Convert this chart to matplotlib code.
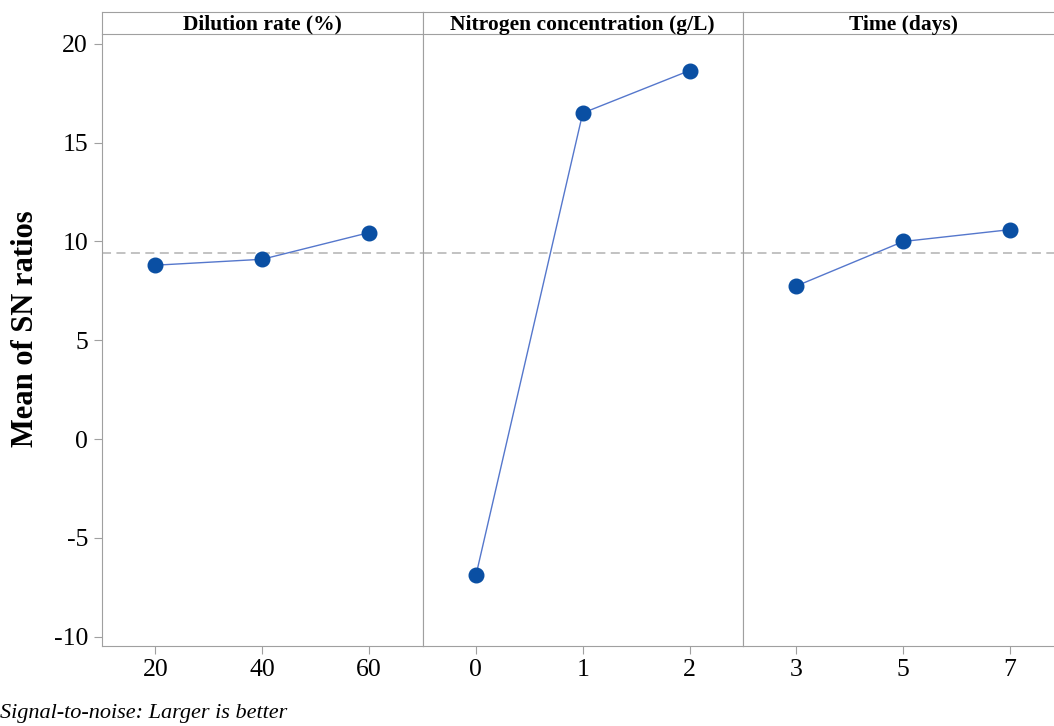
import matplotlib.pyplot as plt

plt.rcParams['font.family'] = ['Liberation Serif', 'DejaVu Serif']
plt.rcParams['axes.unicode_minus'] = False

# Datos
factores = ["Dilution rate (%)", "Nitrogen concentration (g/L)", "Time (days)"]
niveles = [["20", "40", "60"], ["0", "1", "2"], ["3", "5", "7"]]
sn_dilucion = [8.8, 9.1, 10.45]
sn_nitrogeno = [-6.9, 16.5, 18.65]
sn_tiempo = [7.75, 10.0, 10.6]
media_sn = 9.43
y_ticks = [-10, -5, 0, 5, 10, 15, 20]

series = [sn_dilucion, sn_nitrogeno, sn_tiempo]

fig = plt.figure(figsize=(10.54, 7.26), dpi=100)
W, H = 1054, 726
gris = "#a0a0a0"

izq = 102
ancho = 320.5
abajo = 646
arriba = 34
franja = 22

for i, (nombre, etiquetas, valores) in enumerate(zip(factores, niveles, series)):
    x0 = izq + i * ancho
    ax = fig.add_axes([x0 / W, 1 - abajo / H, ancho / W, (abajo - arriba) / H])
    pos = list(range(len(valores)))
    ax.axhline(media_sn, color="#bdbdbd", linestyle=(0, (5, 3)), linewidth=1.3, zorder=1)
    ax.plot(pos, valores, color="#5577cc", linewidth=1.0, zorder=2)
    ax.plot(pos, valores, "o", color="#0a4fa3", markersize=10.5, zorder=3)
    ax.set_xlim(-0.5, 2.5)
    ax.set_ylim(-10.47, 20.5)
    ax.set_xticks(pos)
    ax.set_xticklabels(etiquetas)
    for lado in ax.spines.values():
        lado.set_color(gris)
    ax.spines["top"].set_visible(False)
    if i == 2:
        ax.spines["right"].set_visible(False)
    ax.tick_params(axis="x", colors=gris, labelcolor="black", labelsize=18.5, length=6, pad=3)
    if i == 0:
        ax.set_yticks(y_ticks)
        ax.tick_params(axis="y", colors=gris, labelcolor="black", labelsize=18.5, length=6, pad=4)
        ax.set_ylabel("Mean of SN ratios", fontsize=22, fontweight="bold")
        ax.yaxis.set_label_coords(-0.195, 0.518)
    else:
        ax.set_yticks([])
    # franja con el nombre del factor
    axf = fig.add_axes([x0 / W, 1 - arriba / H, ancho / W, franja / H])
    axf.set_xticks([])
    axf.set_yticks([])
    for lado in axf.spines.values():
        lado.set_color(gris)
    if i == 2:
        axf.spines["right"].set_visible(False)
    axf.text(0.5, 0.42, nombre, ha="center", va="center", fontsize=15.5,
             fontweight="bold", transform=axf.transAxes)

fig.text(0.0, 1 - 718 / H, "Signal-to-noise: Larger is better", fontsize=16,
         style="italic", ha="left", va="baseline")

fig.savefig("out.png", dpi=100)
